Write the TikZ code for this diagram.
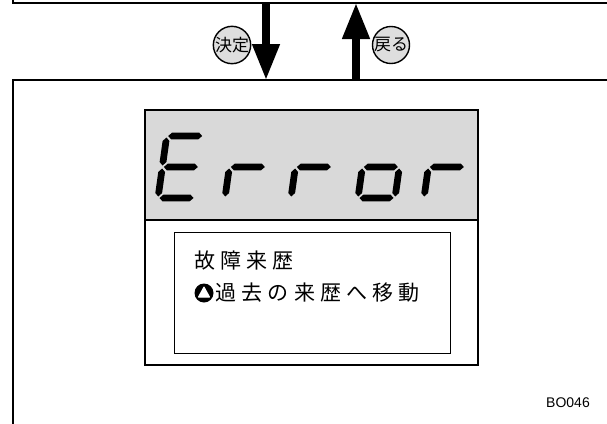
\documentclass[tikz,border=0pt]{standalone}
\usepackage{fontspec}
\setsansfont{Liberation Sans}
\newfontfamily\jpfont{Noto Sans CJK JP}
\newfontfamily\jpwide[LetterSpace=24]{Noto Sans CJK JP}
\usetikzlibrary{arrows.meta,positioning}
\definecolor{lcdgray}{RGB}{217,217,217}
\definecolor{keygray}{RGB}{222,222,222}

% seven segment pieces: x, y, length
\newcommand\hseg[3]{\fill (#1+1.5,#2) -- (#1+5,#2+3.4) -- (#1+#3-5,#2+3.4) -- (#1+#3-1.5,#2) -- (#1+#3-5,#2-3.4) -- (#1+5,#2-3.4) -- cycle;}
\newcommand\vseg[3]{\fill (#1,#2+1.5) -- (#1+3.4,#2+5) -- (#1+3.4,#2+#3-5) -- (#1,#2+#3-1.5) -- (#1-3.4,#2+#3-5) -- (#1-3.4,#2+5) -- cycle;}

\begin{document}
\begin{tikzpicture}[
  x=1pt, y=-1pt,
  frame/.style={draw=black, line width=1.8pt},
  key/.style={circle, draw=black, line width=1.4pt, fill=keygray, inner sep=0pt, minimum size=34pt, font=\jpfont\fontsize{17}{17}\selectfont},
  bigarrow/.style={line width=7.5pt, -{Triangle[width=26pt,length=36pt]}},
  msg/.style={anchor=west, inner sep=0pt, font=\jpwide\fontsize{21}{21}\selectfont},
]
\clip (0,0) rectangle (607,423);
% screens
\draw[frame] (13,-20) rectangle (640,3);
\draw[frame] (13,80) rectangle (640,460);
\coordinate (ok-top) at (266,3);
\coordinate (ok-bot) at (266,80);
\coordinate (back-top) at (356,3);
\coordinate (back-bot) at (356,80);
\draw[bigarrow] (ok-top) -- (ok-bot);
\draw[bigarrow] (back-bot) -- (back-top);
\node[key] (ok) at (232,45) {決定};
\node[key] (back) at (391,45) {戻る};
% display
\draw[frame, fill=lcdgray] (145,110) rectangle (478,220);
\draw[frame] (145,220) rectangle (478,365);
\draw[line width=1pt] (174,232) rectangle (450,353);
\begin{scope}[shift={(158,198)}, x=1pt, y=1pt, xslant=0.14]
  % E
  \hseg{0}{0}{37} \hseg{0}{31}{37} \hseg{0}{62}{37} \vseg{0}{0}{31} \vseg{0}{31}{31}
  % r
  \vseg{67}{0}{31} \hseg{67}{31}{37}
  % r
  \vseg{133}{0}{31} \hseg{133}{31}{37}
  % o
  \vseg{200}{0}{31} \hseg{200}{31}{37} \hseg{200}{0}{37} \vseg{237}{0}{31}
  % r
  \vseg{266}{0}{31} \hseg{266}{31}{37}
\end{scope}
\node[msg] (title) at (194,261) {故障来歴};
\node[circle, fill=black, minimum size=19pt, inner sep=0pt] (up) at (204,293) {};
\fill[white, line join=round, draw=white, line width=1pt] (204,287) -- (209.5,297) -- (198.5,297) -- cycle;
\node[msg, right=2pt of up] (hint) {過去の来歴へ移動};
\node[font=\sffamily\fontsize{14}{14}\selectfont] (code) at (568,403) {BO046};
\end{tikzpicture}
\end{document}
